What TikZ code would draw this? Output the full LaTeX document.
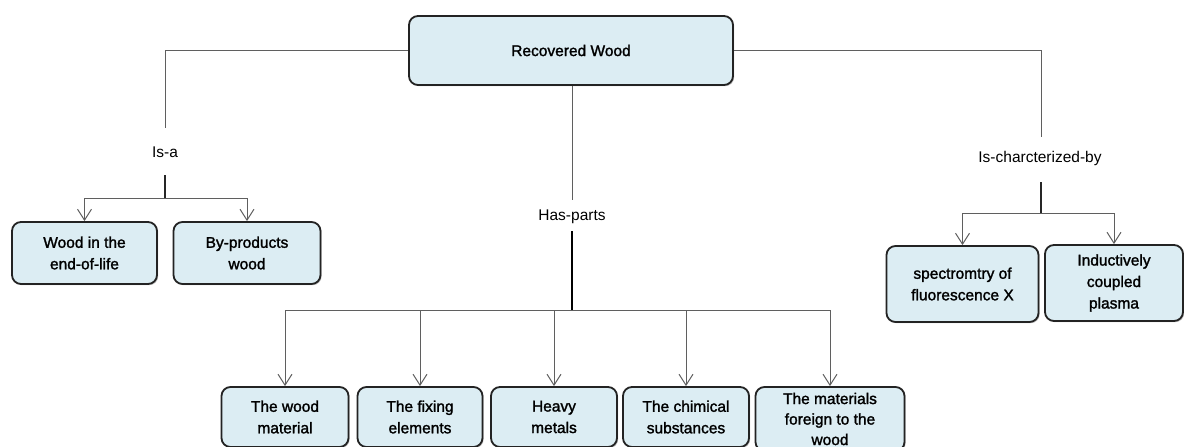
\documentclass[tikz,border=0pt]{standalone}
\usepackage{fontspec}
\setmainfont{Liberation Sans}
\newfontfamily\heavyfont{Liberation Sans}[FakeBold=1.6]
\usetikzlibrary{arrows.meta,shadows}
\definecolor{boxfill}{RGB}{220,237,243}
\definecolor{boxline}{RGB}{35,35,35}
\definecolor{connline}{RGB}{95,95,95}
\tikzset{
  box/.style={draw=boxline, line width=1.8pt, fill=boxfill, rounded corners=9pt,
    align=center, inner sep=2pt, font=\heavyfont\fontsize{15.5}{21.5}\selectfont,
    drop shadow={shadow xshift=1.2pt, shadow yshift=-1.2pt, opacity=0.25, fill=black}},
  lbl/.style={font=\fontsize{15.5}{19}\selectfont, inner sep=1pt},
  conn/.style={draw=connline, line width=1pt},
  stem/.style={draw=black!85, line width=1.4pt},
  thickstem/.style={draw=black, line width=2.6pt},
  arr/.style={conn, -{Straight Barb[length=11pt,width=14pt,line width=1pt]}},
}
\begin{document}
\begin{tikzpicture}[x=1pt,y=-1pt]
\useasboundingbox (0,0) rectangle (1184,447);
\clip (0,0) rectangle (1184,447);
\fill[white] (0,0) rectangle (1184,447);

% root
\node[box, minimum width=324pt, minimum height=69pt] (root) at (571,50.5) {Recovered Wood};

% left branch
\node[lbl] (isa) at (165,152) {Is-a};
\node[box, minimum width=145pt, minimum height=62pt] (l1) at (84.5,253) {Wood in the\\end-of-life};
\node[box, minimum width=147pt, minimum height=62pt] (l2) at (247,253) {By-products\\wood};
\coordinate (a1) at (165,128);
\coordinate (a2) at (165,175);
\coordinate (a3) at (165,198);
\draw[conn] (root.west) -| (a1);
\draw[stem] (a2) -- (a3);
\draw[arr] (a3) -| (l1.north);
\draw[arr] (a3) -| (l2.north);

% middle branch
\node[lbl] (has) at (572,217) {Has-parts};
\node[box, minimum width=127pt, minimum height=60pt] (b1) at (285,417) {The wood\\material};
\node[box, minimum width=125pt, minimum height=60pt] (b2) at (420,417) {The fixing\\elements};
\node[box, minimum width=126pt, minimum height=60pt] (b3) at (554,417) {Heavy\\metals};
\node[box, minimum width=126pt, minimum height=60pt] (b4) at (686,417) {The chimical\\substances};
\node[box, minimum width=149pt, minimum height=64pt, font=\heavyfont\fontsize{15.5}{20.5}\selectfont] (b5) at (830,419) {The materials\\foreign to the\\wood};
\coordinate (m1) at (572,200);
\coordinate (m2) at (572,231);
\coordinate (m3) at (572,310);
\draw[conn] (root.south -| m1) -- (m1);
\draw[thickstem] (m2) -- (m3);
\draw[arr] (m3) -| (b1.north);
\draw[arr] (m3) -| (b2.north);
\draw[arr] (m3) -| (b3.north);
\draw[arr] (m3) -| (b4.north);
\draw[arr] (m3) -| (b5.north);

% right branch
\node[lbl] (isc) at (1040,158) {Is-charcterized-by};
\node[box, minimum width=152pt, minimum height=76pt] (r1) at (962.5,284) {spectromtry of\\fluorescence X};
\node[box, minimum width=138pt, minimum height=76pt] (r2) at (1114,283) {Inductively\\coupled\\plasma};
\coordinate (c1) at (1041,137);
\coordinate (c2) at (1041,182);
\coordinate (c3) at (1041,213);
\draw[conn] (root.east) -| (c1);
\draw[stem] (c2) -- (c3);
\draw[arr] (c3) -| (r1.north);
\draw[arr] (c3) -| (r2.north);
\end{tikzpicture}
\end{document}
